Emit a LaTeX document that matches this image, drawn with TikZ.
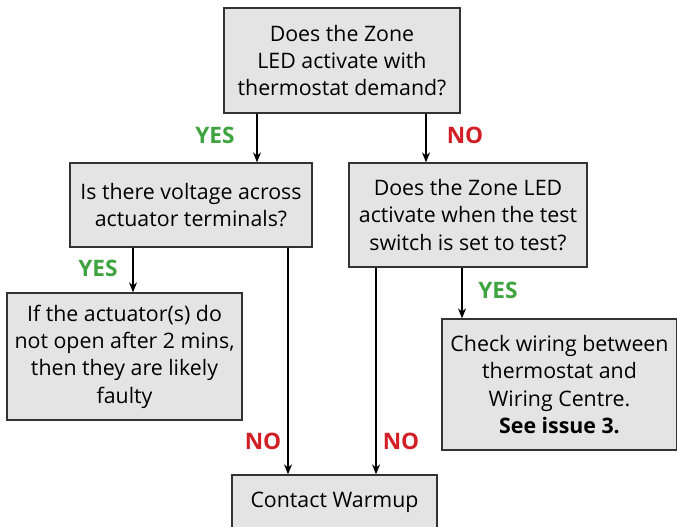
\documentclass[tikz,border=0pt]{standalone}
\usepackage{fontspec}
\setmainfont{Open Sans}
\usetikzlibrary{arrows.meta, positioning}
\definecolor{boxgray}{HTML}{E4E4E4}
\definecolor{yesgreen}{HTML}{3FA43F}
\definecolor{nored}{HTML}{D21F26}

\begin{document}
\begin{tikzpicture}[x=0.75pt, y=-0.75pt,
    box/.style={draw=black!80, line width=1pt, fill=boxgray, align=center,
      inner sep=0pt, font=\fontsize{16}{20.5}\selectfont},
    arr/.style={-{Stealth[length=7.5pt, width=6pt]}, line width=0.8pt},
    yes/.style={text=yesgreen, font=\fontsize{17}{18}\selectfont\bfseries},
    no/.style={text=nored, font=\fontsize{17}{18}\selectfont\bfseries}]
        \useasboundingbox (0,0) rectangle (677,527);
        % Questions
        \node[box, minimum width=177pt, minimum height=78.75pt] (q1) at (342,60.5)
          {Does the Zone\\LED activate with\\thermostat demand?};
        \node[box, minimum width=181.5pt, minimum height=63pt] (q2) at (191,205)
          {Is there voltage across\\actuator terminals?};
        \node[box, minimum width=178.5pt, minimum height=78pt] (q3) at (468,215)
          {Does the Zone LED\\activate when the test\\switch is set to test?};
        % Results
        \node[box, minimum width=176.25pt, minimum height=95.25pt] (r1) at (124.5,356.5)
          {If the actuator(s) do\\not open after 2 mins,\\then they are likely\\faulty};
        \node[box, minimum width=176.25pt, minimum height=98.25pt] (r2) at (559.5,384.5)
          {Check wiring between\\thermostat and\\Wiring Centre.\\\textbf{See issue 3.}};
        \node[box, minimum width=153.75pt, minimum height=40.5pt] (cw) at (334.5,502)
          {Contact Warmup};
        % Arrows
        \draw[arr] ([xshift=-63.75pt]q1.south) -- ([xshift=-63.75pt]q1.south |- q2.north);
        \draw[arr] ([xshift=63pt]q1.south) -- ([xshift=63pt]q1.south |- q3.north);
        \draw[arr] ([xshift=-43.5pt]q2.south) -- ([xshift=-43.5pt]q2.south |- r1.north);
        \draw[arr] ([xshift=72.75pt]q2.south) -- ([xshift=72.75pt]q2.south |- cw.north);
        \draw[arr] ([xshift=-4.5pt]q3.south) -- ([xshift=-4.5pt]q3.south |- r2.north);
        \draw[arr] ([xshift=-69pt]q3.south) -- ([xshift=-69pt]q3.south |- cw.north);
        % Labels
        \node[yes] (y1) at (215,135) {YES};
        \node[no] (n1) at (465,135) {NO};
        \node[yes] (y2) at (98,268) {YES};
        \node[yes] (y3) at (498,290) {YES};
        \node[no] (n2) at (263,441) {NO};
        \node[no] (n3) at (401,441) {NO};
\end{tikzpicture}
\end{document}
